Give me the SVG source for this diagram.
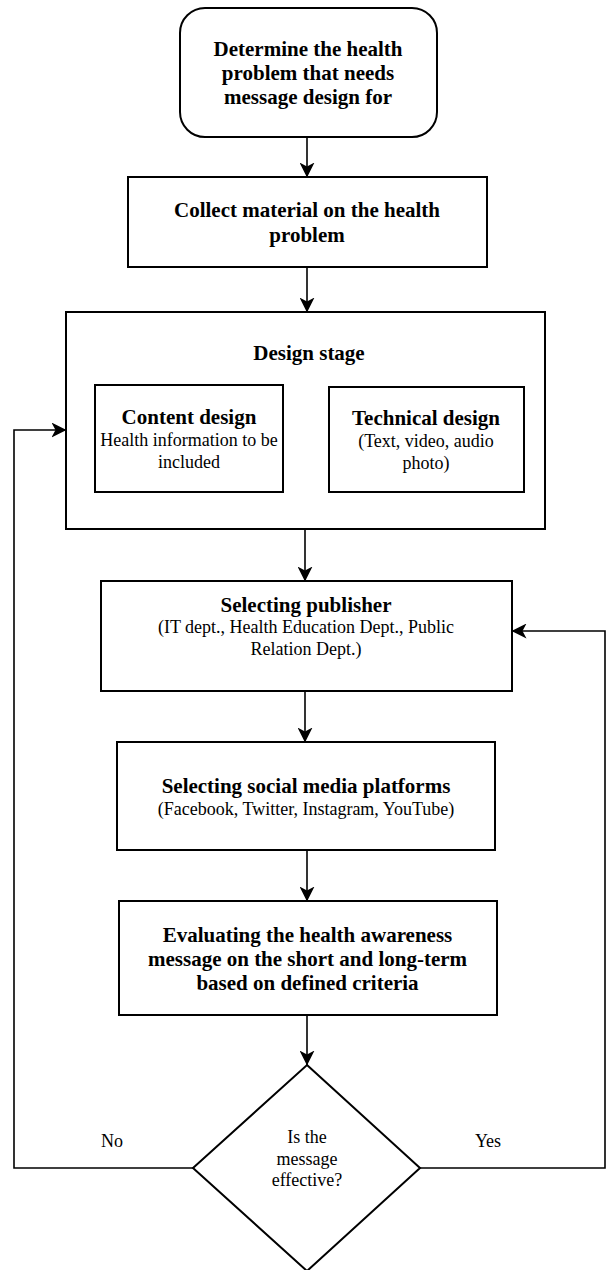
<svg xmlns="http://www.w3.org/2000/svg" width="606" height="1270" viewBox="0 0 606 1270">
  <style>
    .box { fill: #ffffff; stroke: #000000; stroke-width: 2; }
    .link { fill: none; stroke: #000000; stroke-width: 1.6; }
    text { font-family: "Liberation Serif", "Times New Roman", serif; fill: #000000; text-anchor: middle; }
    .b { font-weight: bold; font-size: 21px; }
    .r { font-size: 18px; }
  </style>
  <defs>
    <marker id="arrow" markerUnits="userSpaceOnUse" markerWidth="15" markerHeight="15" viewBox="0 0 15 15" refX="14.5" refY="7.5" orient="auto">
      <path d="M0,0 L15,7.5 L0,15 L4,7.5 z" fill="#000000"/>
    </marker>
  </defs>

  <rect width="606" height="1270" fill="#ffffff"/>

  <!-- connectors -->
  <g id="connectors">
    <line class="link" x1="307" y1="137" x2="307" y2="177" marker-end="url(#arrow)"/>
    <line class="link" x1="307" y1="267" x2="307" y2="312" marker-end="url(#arrow)"/>
    <line class="link" x1="305" y1="529" x2="305" y2="581" marker-end="url(#arrow)"/>
    <line class="link" x1="305" y1="691" x2="305" y2="742" marker-end="url(#arrow)"/>
    <line class="link" x1="307" y1="850" x2="307" y2="901" marker-end="url(#arrow)"/>
    <line class="link" x1="307" y1="1015" x2="307" y2="1065" marker-end="url(#arrow)"/>
    <polyline class="link" points="193,1168 14,1168 14,430 66,430" marker-end="url(#arrow)"/>
    <polyline class="link" points="420,1168 605,1168 605,631 512,631" marker-end="url(#arrow)"/>
    <text class="r" x="112" y="1147">No</text>
    <text class="r" x="488" y="1147">Yes</text>
  </g>

  <g id="determine">
    <rect class="box" x="180" y="8" width="257" height="129" rx="25" ry="25"/>
    <text class="b" x="308" y="56">Determine the health</text>
    <text class="b" x="308" y="80">problem that needs</text>
    <text class="b" x="308" y="104">message design for</text>
  </g>

  <g id="collect">
    <rect class="box" x="128" y="177" width="359" height="90"/>
    <text class="b" x="307" y="217">Collect material on the health</text>
    <text class="b" x="307" y="242">problem</text>
  </g>

  <g id="design-stage">
    <rect class="box" x="66" y="312" width="479" height="217"/>
    <text class="b" x="309" y="360">Design stage</text>
  </g>

  <g id="content-design">
    <rect class="box" x="95" y="385" width="188" height="107"/>
    <text class="b" x="189" y="424">Content design</text>
    <text class="r" x="189" y="446">Health information to be</text>
    <text class="r" x="189" y="468">included</text>
  </g>

  <g id="technical-design">
    <rect class="box" x="329" y="387" width="195" height="105"/>
    <text class="b" x="426" y="425">Technical design</text>
    <text class="r" x="426" y="447">(Text, video, audio</text>
    <text class="r" x="426" y="469">photo)</text>
  </g>

  <g id="publisher">
    <rect class="box" x="101" y="581" width="411" height="110"/>
    <text class="b" x="306" y="612">Selecting publisher</text>
    <text class="r" x="306" y="633">(IT dept., Health Education Dept., Public</text>
    <text class="r" x="306" y="655">Relation Dept.)</text>
  </g>

  <g id="platforms">
    <rect class="box" x="117" y="742" width="378" height="108"/>
    <text class="b" x="306" y="793">Selecting social media platforms</text>
    <text class="r" x="306" y="815">(Facebook, Twitter, Instagram, YouTube)</text>
  </g>

  <g id="evaluate">
    <rect class="box" x="119" y="901" width="378" height="114"/>
    <text class="b" x="307.5" y="942">Evaluating the health awareness</text>
    <text class="b" x="307.5" y="966">message on the short and long-term</text>
    <text class="b" x="307.5" y="990">based on defined criteria</text>
  </g>

  <g id="decision">
    <polygon class="box" points="307,1065 420,1168 307,1271 193,1168"/>
    <text class="r" x="307" y="1143">Is the</text>
    <text class="r" x="307" y="1165">message</text>
    <text class="r" x="307" y="1186">effective?</text>
  </g>
</svg>
